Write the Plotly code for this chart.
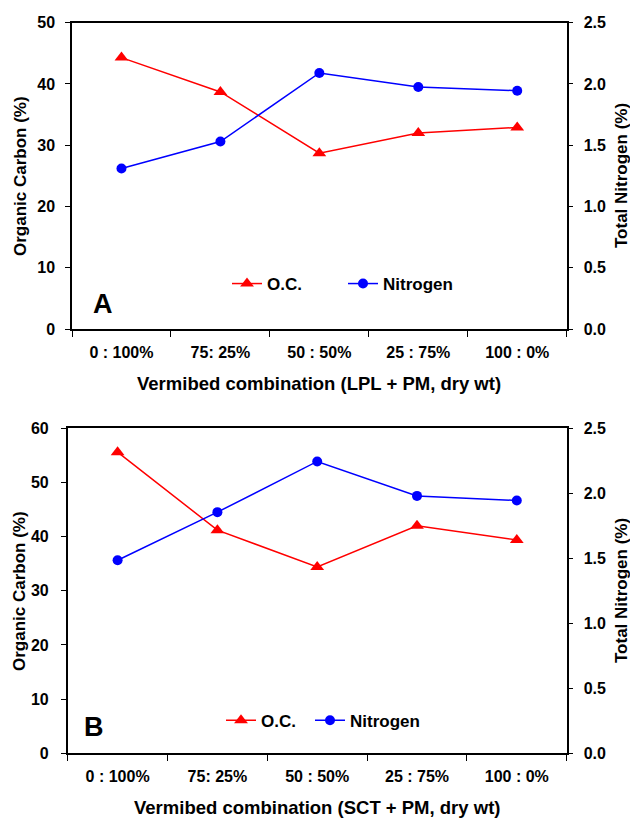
import plotly.graph_objects as go

categories = ["0 : 100%", "75: 25%", "50 : 50%", "25 : 75%", "100 : 0%"]

oc_a = [44.3, 38.7, 28.7, 32.0, 32.9]
n_a = [1.31, 1.53, 2.09, 1.975, 1.945]

oc_b = [55.6, 41.2, 34.4, 42.0, 39.4]
n_b = [1.485, 1.855, 2.245, 1.98, 1.945]

oc_ticks_a = [0, 10, 20, 30, 40, 50]
oc_ticks_b = [0, 10, 20, 30, 40, 50, 60]
n_ticks = [0.0, 0.5, 1.0, 1.5, 2.0, 2.5]

W, H = 630, 819
FONT = "Liberation Sans, Arial, sans-serif"
RED = "#FF0000"
BLUE = "#0000FF"


def px_x(x):
    return x / W


def px_y(y):
    return 1 - y / H


fig = go.Figure()

# Panel A
fig.add_trace(go.Scatter(x=categories, y=oc_a, name="O.C.", mode="lines+markers",
                         line=dict(color=RED, width=1.5),
                         marker=dict(symbol="triangle-up", size=12, color=RED),
                         xaxis="x", yaxis="y", legend="legend"))
fig.add_trace(go.Scatter(x=categories, y=n_a, name="Nitrogen", mode="lines+markers",
                         line=dict(color=BLUE, width=1.5),
                         marker=dict(symbol="circle", size=10, color=BLUE),
                         xaxis="x", yaxis="y2", legend="legend2"))
# Panel B
fig.add_trace(go.Scatter(x=categories, y=oc_b, name="O.C.", mode="lines+markers",
                         line=dict(color=RED, width=1.5),
                         marker=dict(symbol="triangle-up", size=12, color=RED),
                         xaxis="x2", yaxis="y3", legend="legend3"))
fig.add_trace(go.Scatter(x=categories, y=n_b, name="Nitrogen", mode="lines+markers",
                         line=dict(color=BLUE, width=1.5),
                         marker=dict(symbol="circle", size=10, color=BLUE),
                         xaxis="x2", yaxis="y4", legend="legend4"))

tickfont = dict(family=FONT, size=16, color="black", weight="bold")

xcommon = dict(type="category", range=[-0.5, 4.5], tickson="boundaries",
               ticks="outside", ticklen=6, tickwidth=1.2, tickcolor="black",
               showline=True, linecolor="black", linewidth=1.5, mirror=True,
               showgrid=False, zeroline=False, tickfont=tickfont,
               ticklabelstandoff=8, fixedrange=True, automargin=False)
ycommon = dict(ticks="outside", ticklen=5, tickwidth=1.2, tickcolor="black",
               showline=True, linecolor="black", linewidth=1.5,
               showgrid=False, zeroline=False, tickfont=tickfont, fixedrange=True,
               automargin=False)

legfont = dict(family=FONT, size=17, color="black", weight="bold")


def leg(x, y):
    return dict(orientation="h", x=px_x(x), y=px_y(y), xanchor="left", yanchor="middle",
                bgcolor="rgba(0,0,0,0)", itemwidth=30, font=legfont)


fig.update_layout(
    width=W, height=H, autosize=False,
    margin=dict(l=0, r=0, t=0, b=0, pad=0, autoexpand=False),
    paper_bgcolor="white", plot_bgcolor="white",
    font=dict(family=FONT, color="black", weight="bold"),
    xaxis=dict(domain=[px_x(72), px_x(566.7)], anchor="y", **xcommon),
    yaxis=dict(domain=[px_y(329), px_y(22.7)], anchor="x", range=[0, 50],
               tickvals=oc_ticks_a, ticklabelstandoff=7, **ycommon),
    yaxis2=dict(domain=[px_y(329), px_y(22.7)], anchor="x", overlaying="y", side="right",
                range=[0, 2.5], tickvals=n_ticks, tickformat=".1f",
                ticklabelstandoff=7, **ycommon),
    xaxis2=dict(domain=[px_x(67.7), px_x(566.7)], anchor="y3", **xcommon),
    yaxis3=dict(domain=[px_y(753.3), px_y(428.3)], anchor="x2", range=[0, 60],
                tickvals=oc_ticks_b, ticklabelstandoff=9, **ycommon),
    yaxis4=dict(domain=[px_y(753.3), px_y(428.3)], anchor="x2", overlaying="y3", side="right",
                range=[0, 2.5], tickvals=n_ticks, tickformat=".1f",
                ticklabelstandoff=7, **ycommon),
    legend=leg(227, 284),
    legend2=leg(343, 284),
    legend3=leg(221, 720.7),
    legend4=leg(310, 720.7),
    showlegend=True,
)

annots = [
    dict(text="Vermibed combination (LPL + PM, dry wt)", x=px_x(319), y=px_y(383), size=18.5, angle=0),
    dict(text="Vermibed combination (SCT + PM, dry wt)", x=px_x(317), y=px_y(807), size=18.5, angle=0),
    dict(text="Organic Carbon (%)", x=px_x(20), y=px_y(176), size=17, angle=-90),
    dict(text="Total Nitrogen (%)", x=px_x(621), y=px_y(176), size=17, angle=-90),
    dict(text="Organic Carbon (%)", x=px_x(19), y=px_y(591), size=17, angle=-90),
    dict(text="Total Nitrogen (%)", x=px_x(621), y=px_y(591), size=17, angle=-90),
    dict(text="A", x=px_x(103), y=px_y(304), size=27, angle=0),
    dict(text="B", x=px_x(94), y=px_y(726.5), size=27, angle=0),
]
for a in annots:
    fig.add_annotation(text=a["text"], x=a["x"], y=a["y"], xref="paper", yref="paper",
                       xanchor="center", yanchor="middle", showarrow=False,
                       textangle=a["angle"],
                       font=dict(family=FONT, size=a["size"], color="black", weight="bold"))

fig.write_html("out.html")
